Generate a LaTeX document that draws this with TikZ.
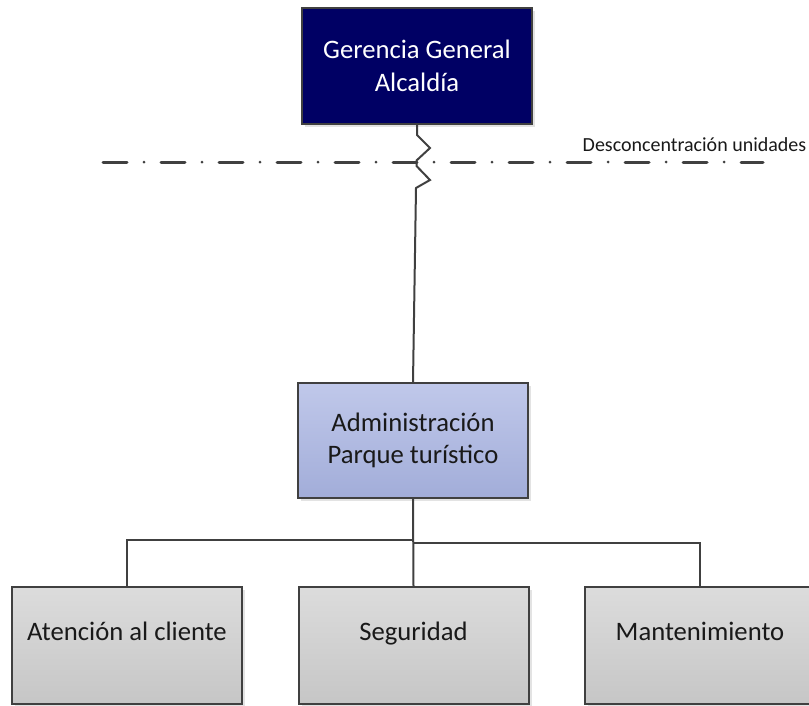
\documentclass[tikz,border=0pt]{standalone}
\usepackage{fontspec}
\setmainfont{Carlito}
\usetikzlibrary{shadows}
\definecolor{edgegray}{RGB}{64,64,64}
\definecolor{navy}{RGB}{0,0,100}
\definecolor{lavtop}{RGB}{192,200,234}
\definecolor{lavbot}{RGB}{162,173,217}
\definecolor{graytop}{RGB}{220,220,220}
\definecolor{graybot}{RGB}{198,198,198}
\tikzset{
  orgbox/.style={draw=edgegray, line width=2pt, minimum width=230pt, inner sep=0pt,
    font=\fontsize{26.67}{32.5}\selectfont, align=center,
    drop shadow={opacity=0.22, shadow xshift=3pt, shadow yshift=-3pt}},
  topbox/.style={orgbox, fill=navy, text=white, minimum height=116pt},
  midbox/.style={orgbox, top color=lavtop, bottom color=lavbot, text=black!90, minimum height=115pt},
  lowbox/.style={orgbox, top color=graytop, bottom color=graybot, text=black!90, minimum height=117pt,
    text height=20pt, text depth=31pt},
  conn/.style={draw=edgegray, line width=2pt},
  dashdot/.style={draw=edgegray, line width=3pt, line cap=round, dash pattern=on 24pt off 17pt on 0pt off 17pt}
}
\begin{document}
\begin{tikzpicture}[x=1pt,y=-1pt]
\useasboundingbox (0,0) rectangle (809,705);
% nodes
\node[topbox] (top) at (417,66) {Gerencia General\\Alcaldía};
\node[midbox] (mid) at (413,440.5) {Administración\\Parque turístico};
\node[lowbox] (b1) at (127,645.5) {Atención al cliente};
\node[lowbox] (b2) at (413.5,645.5) {Seguridad};
\node[lowbox] (b3) at (700,645.5) {Mantenimiento};
% dash-dot boundary line
\coordinate (dl) at (103,162);
\coordinate (dr) at (763,162);
\draw[dashdot] (dl) -- (dr);
\node[anchor=base west, inner sep=0pt, font=\fontsize{20}{24}\selectfont, text=black!90] (lbl) at (582.5,151.7) {Desconcentración unidades};
% zigzag connector
\draw[conn] (top.south) -- (417,135) -- (430,148) -- (416.5,160.5) -- (416.5,166) -- (430,180) -- (416,188) -- (mid.north);
% tree connectors
\coordinate (busL) at (413,540);
\coordinate (busR) at (413,543);
\draw[conn] (mid.south) -- (b2.north);
\draw[conn] (busL) -| (b1.north);
\draw[conn] (busR) -| (b3.north);
\end{tikzpicture}
\end{document}
